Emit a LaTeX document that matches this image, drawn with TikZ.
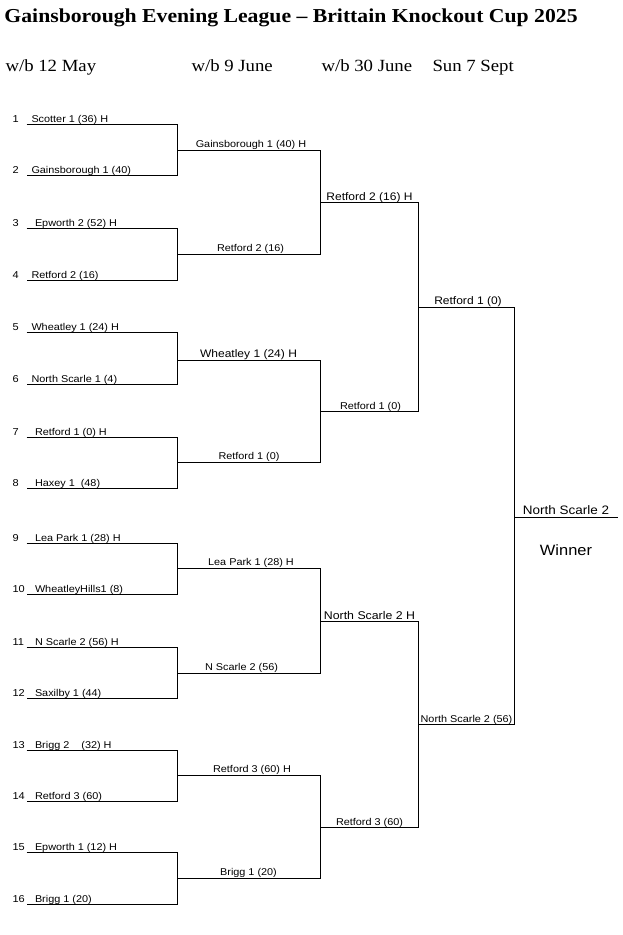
\documentclass[tikz,border=0pt]{standalone}
\usepackage{fontspec}
\setmainfont{Liberation Serif}[FakeStretch=1.1]
\newfontfamily\arialf{Liberation Sans}[FakeStretch=1.1]
\begin{document}
\begin{tikzpicture}[x=0.75pt,y=-0.75pt,line width=0.75pt,line join=miter,
  num/.style={inner sep=0pt,anchor=base west,font=\arialf\fontsize{7.5}{9}\selectfont},
  lbl/.style={inner sep=0pt,anchor=base west,font=\arialf\fontsize{7.4}{9}\selectfont},
  clbl/.style={inner sep=0pt,anchor=base,font=\arialf\fontsize{7.4}{9}\selectfont},
  clblb/.style={inner sep=0pt,anchor=base,font=\arialf\fontsize{8.2}{10}\selectfont},
  ttl/.style={inner sep=0pt,anchor=base west,font=\bfseries\fontsize{14.8}{18}\selectfont},
  hdr/.style={inner sep=0pt,anchor=base west,font=\fontsize{12.8}{15}\selectfont}]
\useasboundingbox (0,0) rectangle (623,935);
% title and round headers
\node[ttl] (title) at (4,22) {Gainsborough Evening League -- Brittain Knockout Cup 2025};
\node[hdr] (h1) at (5,71) {w/b 12 May};
\node[hdr] (h2) at (191,71) {w/b 9 June};
\node[hdr] (h3) at (321,71) {w/b 30 June};
\node[hdr] (h4) at (432,71) {Sun 7 Sept};
% round 1 coordinates
\foreach \i/\y in {1/124.5,2/175.5,3/228.5,4/280.5,5/332.5,6/384.5,7/437.5,8/488.5,9/543.5,10/594.5,11/647.5,12/698.5,13/750.5,14/801.5,15/852.5,16/904.5}{
  \coordinate (a\i) at (26.5,\y);
  \coordinate (b\i) at (177.5,\y);
  \node[num] (n\i) at (12,\y-2.5) {\i};
}
% round 2 coordinates
\foreach \k/\y in {1/150.5,2/254.5,3/360.5,4/462.5,5/568.5,6/673.5,7/775.5,8/878.5}{
  \coordinate (c\k) at (177.5,\y);
  \coordinate (d\k) at (320.5,\y);
}
% round 3 coordinates
\foreach \k/\y in {1/202.5,2/411.5,3/621.5,4/827.5}{
  \coordinate (e\k) at (320.5,\y);
  \coordinate (f\k) at (418.5,\y);
}
% round 4 coordinates
\foreach \k/\y in {1/307.5,2/724.5}{
  \coordinate (g\k) at (418.5,\y);
  \coordinate (h\k) at (514.5,\y);
}
\coordinate (p) at (514.5,517.5);
\coordinate (q) at (618,517.5);
% bracket lines
\foreach \i/\j in {1/2,3/4,5/6,7/8,9/10,11/12,13/14,15/16}{\draw (a\i) -- (b\i) -- (b\j) -- (a\j);}
\foreach \k in {1,...,8}{\draw (c\k) -- (d\k);}
\foreach \i/\j in {1/2,3/4,5/6,7/8}{\draw (d\i) -- (d\j);}
\foreach \k in {1,...,4}{\draw (e\k) -- (f\k);}
\foreach \i/\j in {1/2,3/4}{\draw (f\i) -- (f\j);}
\foreach \k in {1,2}{\draw (g\k) -- (h\k);}
\draw (h1) -- (h2);
\draw (p) -- (q);
% round 1 labels
\node[lbl] (t1) at (31,122) {Scotter 1 (36) H};
\node[lbl] (t2) at (31,173) {Gainsborough 1 (40)};
\node[lbl] (t3) at (34.5,226) {Epworth 2 (52) H};
\node[lbl] (t4) at (31,278) {Retford 2 (16)};
\node[lbl] (t5) at (31,330) {Wheatley 1 (24) H};
\node[lbl] (t6) at (31,382) {North Scarle 1 (4)};
\node[lbl] (t7) at (34.5,435) {Retford 1 (0) H};
\node[lbl] (t8) at (34.5,486) {Haxey 1\ \ (48)};
\node[lbl] (t9) at (34.5,541) {Lea Park 1 (28) H};
\node[lbl] (t10) at (34.5,592) {WheatleyHills1 (8)};
\node[lbl] (t11) at (34.5,645) {N Scarle 2 (56) H};
\node[lbl] (t12) at (34.5,696) {Saxilby 1 (44)};
\node[lbl] (t13) at (34.5,748) {Brigg 2\ \ \ \ (32) H};
\node[lbl] (t14) at (34.5,799) {Retford 3 (60)};
\node[lbl] (t15) at (34.5,850) {Epworth 1 (12) H};
\node[lbl] (t16) at (34.5,902) {Brigg 1 (20)};
% round 2 labels
\node[clbl] (u1) at (251,147.5) {Gainsborough 1 (40) H};
\node[clbl] (u2) at (250.5,251.5) {Retford 2 (16)};
\node[clblb] (u3) at (248.5,357.5) {Wheatley 1 (24) H};
\node[clbl] (u4) at (249,459.5) {Retford 1 (0)};
\node[clbl] (u5) at (251,565.5) {Lea Park 1 (28) H};
\node[clbl] (u6) at (241.5,670.5) {N Scarle 2 (56)};
\node[clbl] (u7) at (252,772.5) {Retford 3 (60) H};
\node[clbl] (u8) at (248.5,875.5) {Brigg 1 (20)};
% round 3 labels
\node[clblb] (v1) at (369.5,200) {Retford 2 (16) H};
\node[clbl] (v2) at (370.5,409) {Retford 1 (0)};
\node[clblb,font=\arialf\fontsize{8.4}{10}\selectfont] (v3) at (369.5,619) {North Scarle 2 H};
\node[clbl] (v4) at (369.5,825) {Retford 3 (60)};
% round 4 labels
\node[clblb] (w1) at (468,304.5) {Retford 1 (0)};
\node[clbl] (w2) at (466.5,722) {North Scarle 2 (56)};
% final
\node[inner sep=0pt,anchor=base,font=\arialf\fontsize{9.2}{11}\selectfont] (fin) at (566,514.5) {North Scarle 2};
\node[inner sep=0pt,anchor=base,font=\arialf\fontsize{11.2}{13}\selectfont] (win) at (566,555) {Winner};
\end{tikzpicture}
\end{document}
